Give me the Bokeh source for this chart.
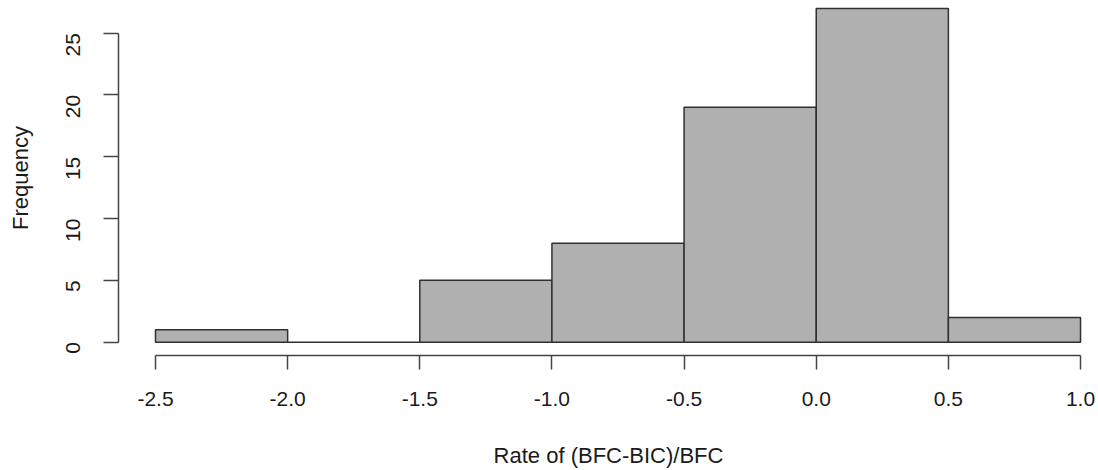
import math
from bokeh.plotting import figure
from bokeh.models import Range1d, FixedTicker
from bokeh.embed import file_html
from bokeh.resources import INLINE

# data
bin_left = [-2.5, -2.0, -1.5, -1.0, -0.5, 0.0, 0.5]
bin_right = [-2.0, -1.5, -1.0, -0.5, 0.0, 0.5, 1.0]
counts = [1, 0, 5, 8, 19, 27, 2]
x_ticks = [-2.5, -2.0, -1.5, -1.0, -0.5, 0.0, 0.5, 1.0]
x_tick_labels = {-2.5: "-2.5", -2.0: "-2.0", -1.5: "-1.5", -1.0: "-1.0",
                 -0.5: "-0.5", 0.0: "0.0", 0.5: "0.5", 1.0: "1.0"}
y_ticks = [0, 5, 10, 15, 20, 25]

FONT = "Liberation Sans"
TXT = "#1a1a1a"
AX = "#444444"

p = figure(width=1098, height=470, output_backend="svg", toolbar_location=None,
           x_range=Range1d(-2.64, 1.068), y_range=Range1d(-1.08, 27.64),
           min_border_left=118, min_border_right=0, min_border_top=0,
           min_border_bottom=115)
p.outline_line_color = None
p.xgrid.grid_line_color = None
p.ygrid.grid_line_color = None
p.background_fill_color = "white"
p.border_fill_color = "white"

p.quad(left=bin_left, right=bin_right, bottom=[0] * len(counts), top=counts,
       fill_color="#b0b0b0", line_color="#303030", line_width=1.5)

# x axis
xa = p.xaxis[0]
xa.ticker = FixedTicker(ticks=x_ticks)
xa.major_label_overrides = x_tick_labels
xa.bounds = (-2.5, 1.0)
xa.minor_tick_line_color = None
xa.major_tick_in = 0
xa.major_tick_out = 14
xa.axis_line_color = AX
xa.axis_line_width = 1.5
xa.major_tick_line_color = AX
xa.major_tick_line_width = 1.5
xa.major_label_text_font = FONT
xa.major_label_text_font_size = "21px"
xa.major_label_text_color = TXT
xa.major_label_standoff = 22
xa.axis_label = "Rate of (BFC-BIC)/BFC"
xa.axis_label_text_font = FONT
xa.axis_label_text_font_size = "22px"
xa.axis_label_text_font_style = "normal"
xa.axis_label_text_color = TXT
xa.axis_label_standoff = 34

# y axis
ya = p.yaxis[0]
ya.ticker = FixedTicker(ticks=y_ticks)
ya.bounds = (0, 25)
ya.minor_tick_line_color = None
ya.major_tick_in = 0
ya.major_tick_out = 15
ya.axis_line_color = AX
ya.axis_line_width = 1.5
ya.major_tick_line_color = AX
ya.major_tick_line_width = 1.5
ya.major_label_text_font = FONT
ya.major_label_text_font_size = "21px"
ya.major_label_text_color = TXT
ya.major_label_orientation = math.pi / 2
ya.major_label_standoff = 30
ya.axis_label = "Frequency"
ya.axis_label_text_font = FONT
ya.axis_label_text_font_size = "22px"
ya.axis_label_text_font_style = "normal"
ya.axis_label_text_color = TXT
ya.axis_label_standoff = 24

open("out.html", "w").write(file_html(p, INLINE))
